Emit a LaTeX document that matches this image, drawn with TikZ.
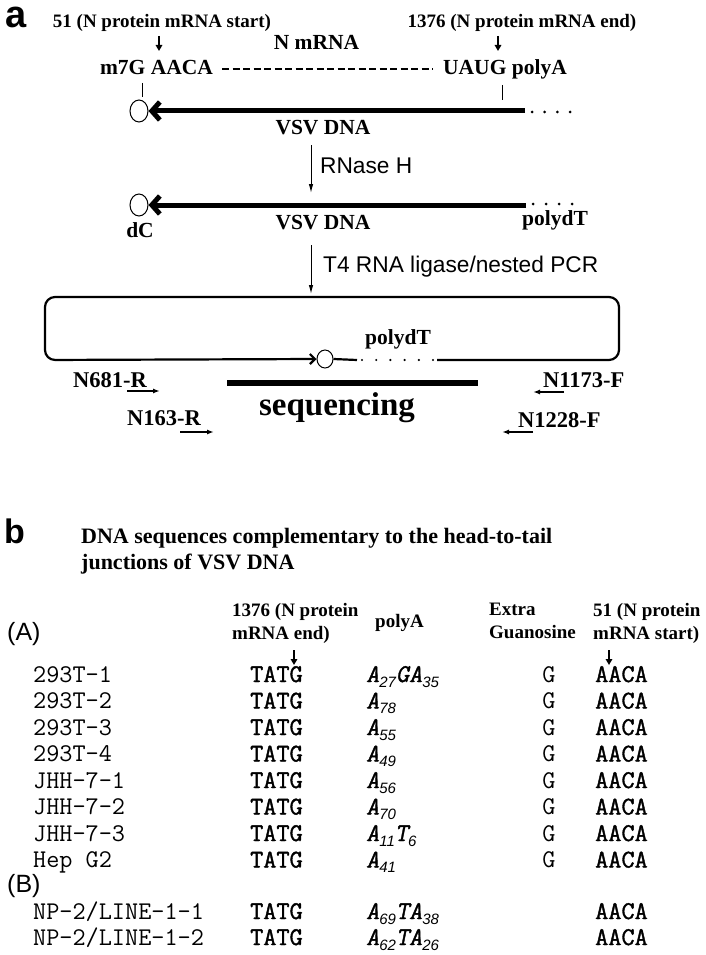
\documentclass[tikz,border=0pt]{standalone}
\usepackage{fontspec}
\setmainfont{Liberation Serif}
\setsansfont{Liberation Sans}
\newfontfamily\monor{Latin Modern Mono}
\newfontfamily\monob{Latin Modern Mono}[FakeBold=1.5]
\newfontfamily\monobi{Latin Modern Mono}[FakeBold=1.5,FakeSlant=0.2]
\usetikzlibrary{arrows.meta,shapes.geometric}
\newcommand\sbs[1]{\raisebox{-5pt}{\sffamily\itshape\fontsize{15}{15}\selectfont #1}}
\newcommand\pa[1]{{\monobi #1}}
\tikzset{
  lab/.style={font={\bfseries\fontsize{19}{22}\selectfont}, inner sep=0pt, anchor=base},
  labw/.style={font={\bfseries\fontsize{19}{22}\selectfont}, inner sep=0pt, anchor=base west},
  big/.style={font={\bfseries\fontsize{21.5}{24}\selectfont}, inner sep=0pt, anchor=base},
  prim/.style={font={\bfseries\fontsize{22.5}{25}\selectfont}, inner sep=0pt, anchor=base west},
  ttl/.style={font={\bfseries\fontsize{22}{25}\selectfont}, inner sep=0pt, anchor=base west},
  sanslab/.style={font={\sffamily\fontsize{22.7}{26}\selectfont}, inner sep=0pt, anchor=base west},
  panel/.style={font={\sffamily\bfseries\fontsize{#1}{#1}\selectfont}, inner sep=0pt, anchor=base west},
  grp/.style={font={\sffamily\fontsize{25}{28}\selectfont}, inner sep=0pt, anchor=base west},
  rowname/.style={font={\monor\fontsize{25.5}{28}\selectfont}, inner sep=0pt, anchor=base west},
  rowbold/.style={font={\monob\fontsize{25.5}{28}\selectfont}, inner sep=0pt, anchor=base west},
  rowg/.style={font={\monor\fontsize{25.5}{28}\selectfont}, inner sep=0pt, anchor=base},
  rowpa/.style={font={\fontsize{25.5}{28}\selectfont}, inner sep=0pt, anchor=base west},
  circ/.style={draw, ellipse, line width=1pt, minimum width=18pt, minimum height=22pt, inner sep=0pt, fill=white},
  circb/.style={draw, ellipse, line width=1pt, minimum width=16pt, minimum height=18pt, inner sep=0pt, fill=white},
  dnarr/.style={line width=1.6pt, -{Triangle[length=6pt,width=6.5pt]}},
  thinarr/.style={line width=1pt, -{Latex[length=9pt,width=4.5pt]}},
  thickarr/.style={line width=5pt, -{Straight Barb[length=8pt,width=18pt]}},
  primarr/.style={line width=1.4pt, -{Latex[length=7pt,width=5pt]}},
  tick/.style={line width=0.9pt},
  boxline/.style={line width=2.2pt},
}
\begin{document}
\begin{tikzpicture}[x=1pt,y=-1pt]
\useasboundingbox (0,0) rectangle (706,955);
% ---------------- panel a ----------------
\node[panel=38] (pa) at (5,28) {a};
\node[lab] (t51) at (162,28) {51 (N protein mRNA start)};
\node[lab] (t1376) at (522,28) {1376 (N protein mRNA end)};
\node[big] (nm) at (316.5,50) {N mRNA};
\node[big] (m7g) at (156.5,75) {m7G AACA};
\node[big] (uaug) at (505,75) {UAUG polyA};
\coordinate (a1s) at (159,36); \coordinate (a1e) at (159,51);
\coordinate (a2s) at (498,36); \coordinate (a2e) at (498,51);
\draw[dnarr] (a1s) -- (a1e);
\draw[dnarr] (a2s) -- (a2e);
\coordinate (d1) at (222,69); \coordinate (d2) at (433,69);
\draw[line width=2.6pt, dash pattern=on 7pt off 3.5pt] (d1) -- (d2);
\coordinate (k1a) at (142,83); \coordinate (k1b) at (142,97);
\coordinate (k2a) at (502,85); \coordinate (k2b) at (502,100);
\draw[tick] (k1a) -- (k1b);
\draw[tick] (k2a) -- (k2b);
% first strand
\node[circ] (c1) at (139,111) {};
\coordinate (e1) at (525,111);
\draw[thickarr] (e1) -- (c1.east);
\foreach \x in {532,544.7,557.3,570} \fill (\x,112) circle (1.5pt);
\node[big] (vsv1) at (323,135) {VSV DNA};
\coordinate (r1) at (311,145); \coordinate (r2) at (311,193);
\draw[thinarr] (r1) -- (r2);
\node[sanslab] (rn) at (320,173) {RNase H};
% second strand
\node[circ] (c2) at (139,205) {};
\coordinate (e2) at (526,205);
\draw[thickarr] (e2) -- (c2.east);
\foreach \x in {533,546,559,572} \fill (\x,204) circle (1.5pt);
\node[big] (vsv2) at (323,229) {VSV DNA};
\node[big] (dc) at (140,237) {dC};
\node[big] (pdt1) at (555,225) {polydT};
\coordinate (r3) at (311,245); \coordinate (r4) at (311,294);
\draw[thinarr] (r3) -- (r4);
\node[sanslab] (t4) at (323,272) {T4 RNA ligase/nested PCR};
% circular construct
\node[circb] (c3) at (325,359) {};
\coordinate (bl) at (45,360); \coordinate (tl) at (45,297);
\coordinate (tr) at (619,297); \coordinate (br) at (619,360);
\coordinate (g1) at (357,360); \coordinate (g2) at (437,360);
\draw[boxline, rounded corners=10pt, {Straight Barb[length=5pt,width=10pt]}-] (c3.west) -- (bl) -- (tl) -- (tr) -- (br) -- (g2);
\draw[boxline] (c3.east) -- (g1);
\foreach \x in {362,376.2,390.4,404.6,418.8,433} \fill (\x,360) circle (1.2pt);
\node[big] (pdt2) at (398,344) {polydT};
% sequencing
\coordinate (sb1) at (227,383); \coordinate (sb2) at (478,383);
\draw[line width=6pt] (sb1) -- (sb2);
\node[font={\bfseries\fontsize{33}{36}\selectfont}, inner sep=0pt, anchor=base] (seq) at (337,415) {sequencing};
% primers
\node[prim] (p681) at (73,387) {N681-R};
\node[prim] (p163) at (127,425) {N163-R};
\node[prim] (p1173) at (543,387) {N1173-F};
\node[prim] (p1228) at (518,427) {N1228-F};
\coordinate (q1a) at (127,391); \coordinate (q1b) at (160,391);
\coordinate (q2a) at (180,432); \coordinate (q2b) at (214,432);
\coordinate (q3a) at (564,392); \coordinate (q3b) at (533,392);
\coordinate (q4a) at (533,432); \coordinate (q4b) at (502,432);
\draw[primarr] (q1a) -- (q1b);
\draw[primarr] (q2a) -- (q2b);
\draw[primarr] (q3a) -- (q3b);
\draw[primarr] (q4a) -- (q4b);
% ---------------- panel b ----------------
\node[panel=34] (pb) at (4,543) {b};
\node[ttl] (ti1) at (81,543) {DNA sequences complementary to the head-to-tail};
\node[ttl] (ti2) at (81,569) {junctions of VSV DNA};
\node[labw] (h1a) at (232,616) {1376 (N protein};
\node[labw] (h1b) at (232,639) {mRNA end)};
\node[labw] (h2) at (375,627) {polyA};
\node[labw] (h3a) at (489,615) {Extra};
\node[labw] (h3b) at (489,638) {Guanosine};
\node[labw] (h4a) at (593,616) {51 (N protein};
\node[labw] (h4b) at (593,639) {mRNA start)};
\node[grp] (ga) at (7,640) {(A)};
\coordinate (b1s) at (294,650); \coordinate (b1e) at (294,665);
\coordinate (b2s) at (609,650); \coordinate (b2e) at (609,665);
\draw[dnarr] (b1s) -- (b1e);
\draw[dnarr] (b2s) -- (b2e);
\foreach \yy/\nm/\poly [count=\i] in {
  682/293T-1/{\pa{A}\sbs{27}\pa{GA}\sbs{35}},
  708.5/293T-2/{\pa{A}\sbs{78}},
  735/293T-3/{\pa{A}\sbs{55}},
  761.5/293T-4/{\pa{A}\sbs{49}},
  788/JHH-7-1/{\pa{A}\sbs{56}},
  814.5/JHH-7-2/{\pa{A}\sbs{70}},
  841/JHH-7-3/{\pa{A}\sbs{11}\pa{T}\sbs{6}},
  867.5/Hep G2/{\pa{A}\sbs{41}}} {
  \node[rowname] (n\i) at (33,\yy) {\nm};
  \node[rowbold] (t\i) at (250,\yy) {TATG};
  \node[rowpa] (p\i) at (366,\yy) {\poly};
  \node[rowg] (g\i) at (549,\yy) {G};
  \node[rowbold] (s\i) at (595,\yy) {AACA};
}
\node[grp] (gb) at (7,892) {(B)};
\node[rowname] (n9) at (33,919) {NP-2/LINE-1-1};
\node[rowbold] (t9) at (250,919) {TATG};
\node[rowpa] (p9) at (366,919) {\pa{A}\sbs{69}\pa{TA}\sbs{38}};
\node[rowbold] (s9) at (595,919) {AACA};
\node[rowname] (n10) at (33,945) {NP-2/LINE-1-2};
\node[rowbold] (t10) at (250,945) {TATG};
\node[rowpa] (p10) at (366,945) {\pa{A}\sbs{62}\pa{TA}\sbs{26}};
\node[rowbold] (s10) at (595,945) {AACA};
\end{tikzpicture}
\end{document}
